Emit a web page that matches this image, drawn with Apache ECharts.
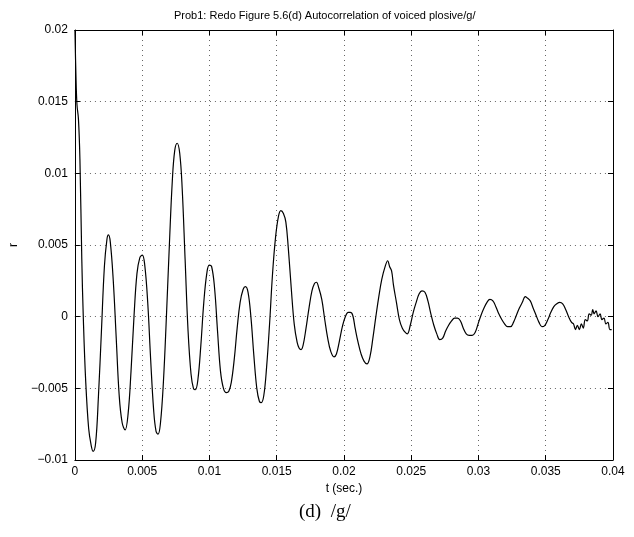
<!DOCTYPE html>
<html>
<head>
<meta charset="utf-8">
<script src="https://cdn.jsdelivr.net/npm/echarts@6/dist/echarts.min.js"></script>
<style>
html,body{margin:0;padding:0;background:#fff;}
#chart{width:634px;height:537px;}
</style>
</head>
<body>
<div id="chart"></div>
<script>
// Time (s) and autocorrelation values
var tValues = [
0,0.00007,0.00015,0.00026,0.00037,0.00051,0.00062,0.00080,0.00102,0.00121,
0.00135,0.00154,0.00175,0.00197,0.00219,0.00238,0.00249,0.00263,0.00285,0.00307,
0.00329,0.00351,0.00373,0.00395,0.00417,0.00439,0.00461,0.00482,0.00501,0.00519,
0.00541,0.00563,0.00585,0.00603,0.00618,0.00636,0.00658,0.00680,0.00702,0.00724,
0.00742,0.00760,0.00779,0.00797,0.00819,0.00841,0.00863,0.00881,0.00895,0.00914,
0.00936,0.00958,0.00980,0.00998,0.01016,0.01038,0.01060,0.01082,0.01104,0.01126,
0.01144,0.01162,0.01184,0.01206,0.01228,0.01250,0.01268,0.01287,0.01308,0.01330,
0.01352,0.01371,0.01385,0.01404,0.01425,0.01447,0.01469,0.01491,0.01513,0.01531,
0.01550,0.01568,0.01586,0.01608,0.01630,0.01652,0.01667,0.01681,0.01696,0.01718,
0.01740,0.01762,0.01780,0.01795,0.01813,0.01835,0.01857,0.01879,0.01901,0.01926,
0.01944,0.01966,0.01988,0.02010,0.02032,0.02047,0.02065,0.02083,0.02105,0.02127,
0.02149,0.02171,0.02193,0.02215,0.02237,0.02259,0.02281,0.02303,0.02325,0.02339,
0.02354,0.02368,0.02390,0.02412,0.02434,0.02456,0.02471,0.02493,0.02515,0.02537,
0.02559,0.02580,0.02602,0.02624,0.02646,0.02668,0.02690,0.02712,0.02734,0.02756,
0.02778,0.02800,0.02822,0.02844,0.02866,0.02887,0.02909,0.02931,0.02953,0.02975,
0.02997,0.03019,0.03041,0.03063,0.03085,0.03107,0.03129,0.03151,0.03173,0.03194,
0.03216,0.03238,0.03260,0.03282,0.03304,0.03326,0.03348,0.03363,0.03385,0.03406,
0.03428,0.03450,0.03472,0.03494,0.03516,0.03538,0.03560,0.03582,0.03604,0.03626,
0.03648,0.03670,0.03692,0.03706,0.03721,0.03735,0.03750,0.03765,0.03779,0.03794,
0.03809,0.03823,0.03838,0.03849,0.03860,0.03874,0.03889,0.03904,0.03918,0.03933,
0.03947,0.03962,0.03977,0.03990
];
var rValues = [
0.0200,0.0170,0.0148,0.0138,0.0110,0.0040,0.0000,-0.0045,-0.0078,-0.0090,
-0.0094,-0.0088,-0.0055,-0.0010,0.0035,0.0054,0.0057,0.0052,0.0025,-0.0015,
-0.0055,-0.0074,-0.0079,-0.0068,-0.0038,0.0000,0.0030,0.0041,0.0043,0.0036,
0.0010,-0.0030,-0.0065,-0.0080,-0.0082,-0.0074,-0.0045,0.0000,0.0050,0.0095,
0.0116,0.0121,0.0114,0.0090,0.0040,-0.0010,-0.0040,-0.0050,-0.0051,-0.0044,
-0.0020,0.0010,0.0030,0.0036,0.0035,0.0020,-0.0010,-0.0038,-0.0050,-0.0053,
-0.0052,-0.0046,-0.0030,-0.0008,0.0010,0.0019,0.0021,0.0017,0.0000,-0.0027,
-0.0050,-0.0059,-0.0060,-0.0055,-0.0035,-0.0005,0.0030,0.0055,0.0070,0.0074,
0.0072,0.0066,0.0048,0.0020,-0.0005,-0.0018,-0.0022,-0.0023,-0.0020,-0.0008,
0.0006,0.0018,0.0023,0.0024,0.0020,0.0012,-0.0002,-0.0015,-0.0024,-0.0028,
-0.0026,-0.0017,-0.0007,0.0000,0.0003,0.0003,0.0001,-0.0008,-0.0018,-0.0026,
-0.0031,-0.0033,-0.0028,-0.0015,0.0000,0.0014,0.0026,0.0034,0.0039,0.0035,
0.0032,0.0022,0.0010,-0.0002,-0.0008,-0.0011,-0.0012,-0.0006,0.0003,0.0010,
0.0016,0.0018,0.0017,0.0011,0.0002,-0.0006,-0.0012,-0.0016,-0.0015,-0.0010,
-0.0006,-0.0003,-0.0001,-0.0001,-0.0003,-0.0008,-0.0012,-0.0013,-0.0013,-0.0011,
-0.0005,0.0001,0.0006,0.0010,0.0012,0.0011,0.0007,0.0002,-0.0002,-0.0005,
-0.0007,-0.0007,-0.0004,0.0001,0.0006,0.0010,0.0014,0.0013,0.0011,0.0006,
0.0001,-0.0004,-0.0007,-0.0006,-0.0002,0.0003,0.0007,0.0009,0.0010,0.0009,
0.0005,0.0000,-0.0004,-0.0005,-0.0009,-0.0006,-0.0009,-0.0005,-0.0008,-0.0002,
-0.0003,0.0002,0.0001,0.0005,0.0002,0.0004,0.0000,0.0002,-0.0002,-0.0001,
-0.0005,-0.0004,-0.0009,-0.0009
];
var xTicks = {min: 0, max: 0.04, step: 0.005};
var yTicks = {min: -0.01, max: 0.02, step: 0.005};
var titleText = 'Prob1: Redo Figure 5.6(d) Autocorrelation of voiced plosive/g/';
var xLabel = 't (sec.)';
var yLabel = 'r';
var caption = '(d)  /g/';

var data = tValues.map(function (t, i) { return [t, rValues[i]]; });

function fmt(v) {
  var s = String(parseFloat(v.toFixed(4)));
  return s.replace('-', '\u2212');
}
var FONT = 'Liberation Sans';
var black = '#000';
var axisLine = {show: true, onZero: false, lineStyle: {color: black, width: 1}};
var tick = {show: true, inside: true, length: 5, lineStyle: {color: black}};
var split = {show: true, lineStyle: {color: '#666', type: [1, 4], width: 1}};

var chart = echarts.init(document.getElementById('chart'), null, {renderer: 'canvas'});
chart.setOption({
  animation: false,
  backgroundColor: '#fff',
  grid: {left: 67, right: 21, top: 30, bottom: 77},
  xAxis: [{
    type: 'value', position: 'bottom', min: xTicks.min, max: xTicks.max, interval: xTicks.step,
    axisLine: axisLine, axisTick: tick, splitLine: split,
    axisLabel: {color: black, fontFamily: FONT, fontSize: 12, margin: 6, formatter: fmt},
    name: xLabel, nameLocation: 'middle', nameGap: 19,
    nameTextStyle: {color: black, fontFamily: FONT, fontSize: 12}
  }, {
    type: 'value', position: 'top', min: xTicks.min, max: xTicks.max, interval: xTicks.step,
    axisLine: axisLine, axisTick: tick, splitLine: {show: false}, axisLabel: {show: false}
  }],
  yAxis: [{
    type: 'value', position: 'left', min: yTicks.min, max: yTicks.max, interval: yTicks.step,
    axisLine: axisLine, axisTick: tick, splitLine: split,
    axisLabel: {color: black, fontFamily: FONT, fontSize: 12, margin: 7, formatter: fmt},
    name: yLabel, nameLocation: 'middle', nameGap: 52, nameRotate: 90,
    nameTextStyle: {color: black, fontFamily: FONT, fontSize: 12}
  }, {
    type: 'value', position: 'right', min: yTicks.min, max: yTicks.max, interval: yTicks.step,
    axisLine: axisLine, axisTick: tick, splitLine: {show: false}, axisLabel: {show: false}
  }],
  graphic: [{
    type: 'text', left: 174, top: 10,
    style: {text: titleText, fill: black, font: '11px "Liberation Sans"'}
  }, {
    type: 'text', left: 299, top: 503,
    style: {text: caption, fill: black, font: '19px "Liberation Serif"'}
  }],
  series: [{
    type: 'line', data: data, xAxisIndex: 0, yAxisIndex: 0,
    showSymbol: false, smooth: 0.4,
    lineStyle: {color: black, width: 1.2}
  }]
});
</script>
</body>
</html>
